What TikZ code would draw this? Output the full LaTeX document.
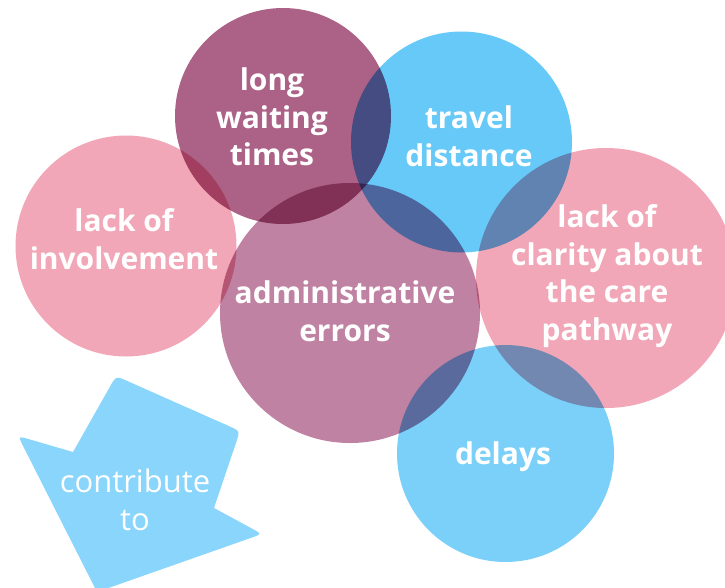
\documentclass[tikz,border=0pt]{standalone}
\usepackage{fontspec}
\setmainfont{Open Sans}
\usetikzlibrary{calc}
\definecolor{cpink}{HTML}{F1A7B7}
\definecolor{cmauve}{HTML}{AC6186}
\definecolor{cmauvel}{HTML}{BF82A2}
\definecolor{cblue}{HTML}{66C9F8}
\definecolor{cbluel}{HTML}{7AD0F8}
\definecolor{carrow}{HTML}{89D5FC}
\tikzset{
  bubble/.style={circle, inner sep=0pt, minimum size=#1},
  lbl/.style={text=white, font=\fontsize{30}{37.5}\selectfont\bfseries, align=center, inner sep=0pt},
  arrlbl/.style={text=white, font=\fontsize{31}{38}\selectfont, align=center, inner sep=0pt}
}
\begin{document}
\begin{tikzpicture}[x=1pt,y=-1pt]
\useasboundingbox (0,0) rectangle (725,587);
\coordinate (N1) at (73,452);
\coordinate (S1) at (116,376);
\coordinate (S2) at (240,431);
\coordinate (N2) at (214,508);
\coordinate (H2) at (262,534);
\coordinate (T) at (97,592);
\coordinate (H1) at (18,436);
\begin{scope}
\clip (0,0) rectangle (725,587);
% arrow
\fill[carrow] (N1)
  -- ($(S1)!12pt!(N1)$) .. controls (S1) .. ($(S1)!12pt!(S2)$)
  -- ($(S2)!12pt!(S1)$) .. controls (S2) .. ($(S2)!12pt!(N2)$)
  -- (N2)
  -- ($(H2)!12pt!(N2)$) .. controls (H2) .. ($(H2)!12pt!(T)$)
  -- (T)
  -- ($(H1)!12pt!(T)$) .. controls (H1) .. ($(H1)!12pt!(N1)$)
  -- cycle;
\begin{scope}[blend group=multiply]
\fill[cpink] (126,246) circle (110.5);
\fill[cmauve] (283,116) circle (108);
\fill[cblue] (461.5,142) circle (110.5);
\fill[cmauvel] (350,313) circle (130);
\fill[cpink] (606,278) circle (130);
\fill[cbluel] (505.5,453.5) circle (108.5);
\end{scope}
\end{scope}
\node[bubble=221pt] (inv) at (126,246) {};
\node[bubble=216pt] (wait) at (283,116) {};
\node[bubble=221pt] (trav) at (461.5,142) {};
\node[bubble=260pt] (adm) at (350,313) {};
\node[bubble=260pt] (clar) at (606,278) {};
\node[bubble=217pt] (del) at (505.5,453.5) {};
\node[lbl] (tinv) at (124,239) {lack of\\involvement};
\node[lbl] (twait) at (272,117) {long\\waiting\\times};
\node[lbl] (ttrav) at (469,136) {travel\\distance};
\node[lbl] (tadm) at (345,311) {administrative\\errors};
\node[lbl] (tclar) at (607,276) {lack of\\clarity about\\the care\\pathway};
\node[lbl] (tdel) at (503,457) {delays};
\node[arrlbl] (tarr) at (135,500) {contribute\\to};
\end{tikzpicture}
\end{document}
